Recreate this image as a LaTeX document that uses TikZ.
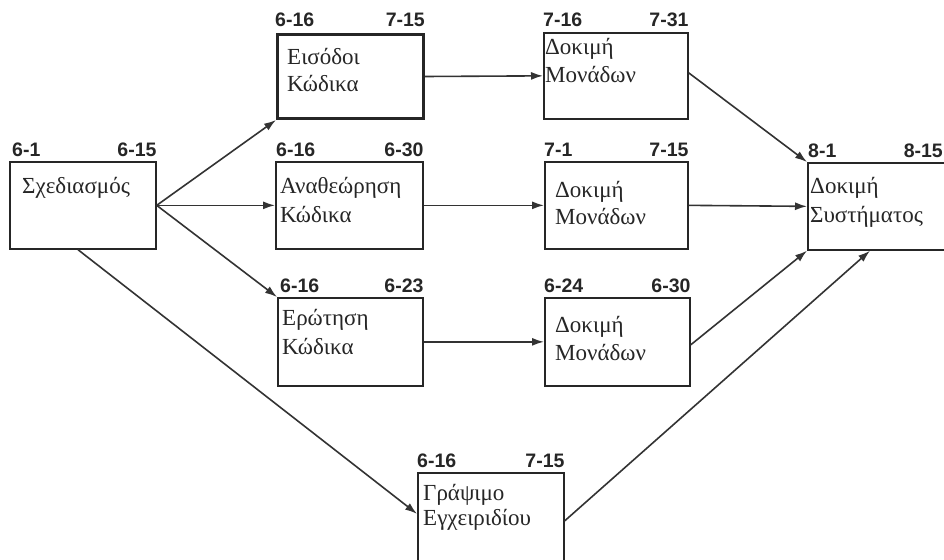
\documentclass[tikz,border=0pt]{standalone}
\usepackage{fontspec}
\setmainfont{Liberation Serif}
\newfontfamily\datefont{Liberation Sans}
\usetikzlibrary{arrows.meta}
\begin{document}
\begin{tikzpicture}[x=1pt,y=-1pt,
  task/.style={draw=black!85,line width=1.7pt,rectangle,inner sep=0pt,anchor=north west},
  boldtask/.style={task,line width=3pt},
  boxtext/.style={anchor=base west,inner sep=0pt,font=\fontsize{23}{27}\selectfont,text=black!85},
  datel/.style={anchor=base west,inner sep=0pt,font=\datefont\bfseries\fontsize{19.5}{22}\selectfont,text=black!85},
  dater/.style={anchor=base east,inner sep=0pt,font=\datefont\bfseries\fontsize{19.5}{22}\selectfont,text=black!85},
  link/.style={draw=black!80,line width=1.6pt,-{Latex[length=12pt,width=8pt]}}]
\clip (0,0) rectangle (944,559);
\fill[white] (0,0) rectangle (944,559);

% task boxes
\node[task,minimum width=146pt,minimum height=87pt] (plan) at (9,161) {};
\node[boldtask,minimum width=146pt,minimum height=84pt] (in1) at (276,33) {};
\node[task,minimum width=144pt,minimum height=86pt] (ut1) at (543,32) {};
\node[task,minimum width=147pt,minimum height=87pt] (rev) at (275,161) {};
\node[task,minimum width=143pt,minimum height=87pt] (ut2) at (544,161) {};
\node[task,minimum width=145pt,minimum height=88pt] (ask) at (277,297) {};
\node[task,minimum width=145pt,minimum height=88pt] (ut3) at (544,297) {};
\node[task,minimum width=143pt,minimum height=87pt] (sys) at (807,162) {};
\node[task,minimum width=146pt,minimum height=90pt] (man) at (417,472) {};

% start / finish dates
\node[datel] (plan-s) at ([shift={(3,-5)}]plan.north west) {6-1};
\node[dater] (plan-f) at ([shift={(0,-5)}]plan.north east) {6-15};
\node[datel] (in1-s) at ([shift={(-1,-6)}]in1.north west) {6-16};
\node[dater] (in1-f) at ([shift={(0,-6)}]in1.north east) {7-15};
\node[datel] (ut1-s) at ([shift={(0,-5)}]ut1.north west) {7-16};
\node[dater] (ut1-f) at ([shift={(0,-5)}]ut1.north east) {7-31};
\node[datel] (rev-s) at ([shift={(1,-5)}]rev.north west) {6-16};
\node[dater] (rev-f) at ([shift={(0,-5)}]rev.north east) {6-30};
\node[datel] (ut2-s) at ([shift={(0,-5)}]ut2.north west) {7-1};
\node[dater] (ut2-f) at ([shift={(0,-5)}]ut2.north east) {7-15};
\node[datel] (ask-s) at ([shift={(3,-5)}]ask.north west) {6-16};
\node[dater] (ask-f) at ([shift={(0,-5)}]ask.north east) {6-23};
\node[datel] (ut3-s) at ([shift={(0,-5)}]ut3.north west) {6-24};
\node[dater] (ut3-f) at ([shift={(0,-5)}]ut3.north east) {6-30};
\node[datel] (sys-s) at ([shift={(1,-5)}]sys.north west) {8-1};
\node[dater] (sys-f) at (943,157) {8-15};
\node[datel] (man-s) at ([shift={(0,-5)}]man.north west) {6-16};
\node[dater] (man-f) at ([shift={(0,-5)}]man.north east) {7-15};

% task names
\node[boxtext] (plan-t) at ([shift={(13,32)}]plan.north west) {Σχεδιασμός};
\node[boxtext] (in1-t1) at ([shift={(11,32)}]in1.north west) {Εισόδοι};
\node[boxtext] (in1-t2) at ([shift={(11,59)}]in1.north west) {Κώδικα};
\node[boxtext] (ut1-t1) at ([shift={(2,23)}]ut1.north west) {Δοκιμή};
\node[boxtext] (ut1-t2) at ([shift={(2,51)}]ut1.north west) {Μονάδων};
\node[boxtext] (rev-t1) at ([shift={(5,32)}]rev.north west) {Αναθεώρηση};
\node[boxtext] (rev-t2) at ([shift={(5,61)}]rev.north west) {Κώδικα};
\node[boxtext] (ut2-t1) at ([shift={(11,36)}]ut2.north west) {Δοκιμή};
\node[boxtext] (ut2-t2) at ([shift={(11,63)}]ut2.north west) {Μονάδων};
\node[boxtext] (ask-t1) at ([shift={(5,28)}]ask.north west) {Ερώτηση};
\node[boxtext] (ask-t2) at ([shift={(5,57)}]ask.north west) {Κώδικα};
\node[boxtext] (ut3-t1) at ([shift={(11,35)}]ut3.north west) {Δοκιμή};
\node[boxtext] (ut3-t2) at ([shift={(11,63)}]ut3.north west) {Μονάδων};
\node[boxtext] (sys-t1) at ([shift={(3,31)}]sys.north west) {Δοκιμή};
\node[boxtext] (sys-t2) at ([shift={(3,60)}]sys.north west) {Συστήματος};
\node[boxtext] (man-t1) at ([shift={(6,28)}]man.north west) {Γράψιμο};
\node[boxtext] (man-t2) at ([shift={(6,53)}]man.north west) {Εγχειριδίου};

% dependencies
\draw[link] (plan.east) -- (in1.south west);
\draw[link] (plan.east) -- (rev.west);
\draw[link] (plan.east) -- (ask.north west);
\draw[link] ([xshift=69pt]plan.south west) -- ([yshift=4pt]man.west);
\draw[link] (in1.east) -- (ut1.west);
\draw[link] (rev.east) -- (ut2.west);
\draw[link] (ask.east) -- (ut3.west);
\draw[link] ([yshift=3pt]ut1.east) -- (sys.north west);
\draw[link] (ut2.east) -- (sys.west);
\draw[link] ([yshift=-3pt]ut3.east) -- (sys.south west);
\draw[link] ([yshift=-3pt]man.east) -- ([xshift=63pt]sys.south west);
\end{tikzpicture}
\end{document}
